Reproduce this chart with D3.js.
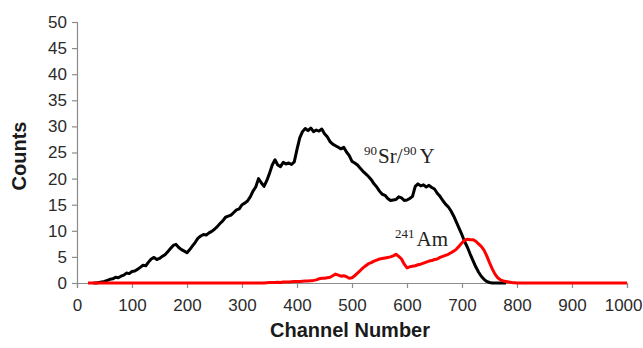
<!DOCTYPE html>
<html>
<head>
<meta charset="utf-8">
<script src="https://cdn.jsdelivr.net/npm/d3@7"></script>
<style>
  html, body { margin: 0; padding: 0; background: #fff; }
  svg { display: block; }
</style>
</head>
<body>
<svg id="chart" width="643" height="348"></svg>
<script>
// 90Sr/90Y beta spectrum: channel numbers and counts
const srChannels = [
  30, 35, 40, 45, 50, 55, 60, 65, 70, 75, 80, 85, 90, 95, 100, 105, 110, 115, 120, 125,
  130, 135, 140, 145, 150, 155, 160, 165, 170, 175, 180, 185, 190, 195, 200, 205, 210, 215, 220, 225,
  230, 235, 240, 245, 250, 255, 260, 265, 270, 275, 280, 285, 290, 295, 300, 305, 310, 315, 320, 325,
  330, 335, 340, 345, 350, 355, 360, 365, 370, 375, 380, 385, 390, 395, 400, 405, 410, 415, 420, 425,
  430, 435, 440, 445, 450, 455, 460, 465, 470, 475, 480, 485, 490, 495, 500, 505, 510, 515, 520, 525,
  530, 535, 540, 545, 550, 555, 560, 565, 570, 575, 580, 585, 590, 595, 600, 605, 610, 615, 620, 625,
  630, 635, 640, 645, 650, 655, 660, 665, 670, 675, 680, 685, 690, 695, 700, 705, 710, 715, 720, 725,
  730, 735, 740, 745, 750, 755, 760, 765, 770, 775, 780
];
const srCounts = [
  0, 0, 0.1, 0.2, 0.3, 0.5, 0.7, 0.8, 1.1, 1.0, 1.3, 1.5, 1.9, 1.8, 2.2, 2.3, 2.6, 3.0, 3.4, 3.3,
  4.0, 4.6, 4.9, 4.5, 4.7, 5.1, 5.4, 6.0, 6.6, 7.2, 7.4, 6.8, 6.4, 6.1, 5.8, 6.4, 7.1, 7.8, 8.6, 9.0,
  9.3, 9.2, 9.6, 9.9, 10.3, 10.8, 11.4, 11.9, 12.6, 12.8, 13.0, 13.5, 14.0, 14.2, 15.0, 15.3, 15.7, 16.5, 17.6, 18.4,
  20.0, 19.2, 18.5, 19.6, 21.0, 22.6, 23.6, 22.6, 22.3, 23.1, 22.8, 23.0, 22.7, 23.2, 25.6, 27.8, 29.0, 29.6, 29.2, 29.7,
  29.0, 29.3, 29.1, 29.5, 28.6, 28.0, 27.1, 26.6, 26.3, 26.0, 25.7, 26.0, 25.1, 24.4, 23.3, 23.0, 22.6, 22.0, 21.4, 20.9,
  20.4, 19.8, 19.0, 18.4, 17.6, 17.0, 16.8, 16.2, 15.8, 15.9, 16.0, 16.5, 16.3, 15.8, 15.9, 16.2, 16.6, 18.5, 19.0, 18.6,
  18.8, 18.4, 18.7, 18.3, 18.0, 17.2, 16.6, 15.8, 15.1, 14.6, 13.8, 12.8, 11.6, 10.4, 9.2, 7.9, 6.8, 5.5, 4.3, 3.1,
  2.1, 1.3, 0.7, 0.3, 0.1, 0, 0, 0, 0, 0, 0
];

// 241Am spectrum: channel numbers and counts (flat at zero outside 340–800)
const amChannels = [
  20, 340, 345, 350, 355, 360, 365, 370, 375, 380, 385, 390, 395, 400, 405, 410, 415, 420, 425, 430,
  435, 440, 445, 450, 455, 460, 465, 470, 475, 480, 485, 490, 495, 500, 505, 510, 515, 520, 525, 530,
  535, 540, 545, 550, 555, 560, 565, 570, 575, 580, 585, 590, 595, 600, 605, 610, 615, 620, 625, 630,
  635, 640, 645, 650, 655, 660, 665, 670, 675, 680, 685, 690, 695, 700, 705, 710, 715, 720, 725, 730,
  735, 740, 745, 750, 755, 760, 765, 770, 775, 780, 785, 790, 795, 800, 1000
];
const amCounts = [
  0, 0, 0.05, 0.1, 0.1, 0.1, 0.15, 0.1, 0.2, 0.2, 0.2, 0.25, 0.3, 0.3, 0.3, 0.35, 0.4, 0.4, 0.45, 0.5,
  0.6, 0.8, 0.9, 0.9, 1.0, 1.1, 1.4, 1.7, 1.5, 1.3, 1.4, 1.2, 0.9, 1.0, 1.4, 1.9, 2.4, 2.9, 3.3, 3.7,
  3.9, 4.2, 4.4, 4.6, 4.7, 4.8, 4.9, 5.0, 5.2, 5.5, 5.1, 4.6, 3.6, 2.9, 3.1, 3.2, 3.3, 3.5, 3.6, 3.8,
  4.0, 4.2, 4.3, 4.5, 4.6, 4.9, 5.1, 5.3, 5.5, 5.8, 6.1, 6.5, 7.1, 7.7, 8.2, 8.4, 8.3, 8.3, 8.0, 7.5,
  7.0, 6.3, 5.2, 3.9, 2.7, 1.7, 1.0, 0.6, 0.4, 0.3, 0.2, 0.1, 0.05, 0, 0
];

const xTicks = [0, 100, 200, 300, 400, 500, 600, 700, 800, 900, 1000];
const yTicks = [0, 5, 10, 15, 20, 25, 30, 35, 40, 45, 50];

const svg = d3.select("#chart");
const x = d3.scaleLinear().domain([0, 1000]).range([77, 627]);
const y = d3.scaleLinear().domain([0, 50]).range([283, 22]);

const axisColor = "#8c8c8c";
const labelColor = "#2b2b2b";
const sans = "Arial, 'Liberation Sans', sans-serif";

// y axis
const gy = svg.append("g").attr("transform", `translate(${x(0)},0)`)
  .call(d3.axisLeft(y).tickValues(yTicks).tickSize(5).tickPadding(5).tickFormat(d3.format("d")));
// x axis
const gx = svg.append("g").attr("transform", `translate(0,${y(0)})`)
  .call(d3.axisBottom(x).tickValues(xTicks).tickSize(5).tickPadding(11).tickFormat(d3.format("d")));

[gx, gy].forEach(g => {
  g.select(".domain").attr("stroke", axisColor).attr("stroke-width", 1.2);
  g.selectAll(".tick line").attr("stroke", axisColor).attr("stroke-width", 1.2);
  g.selectAll(".tick text")
    .attr("fill", labelColor)
    .style("font-family", sans)
    .style("font-size", "17px");
});
// keep the last x label inside the frame
gx.selectAll(".tick text").filter(d => d === 1000)
  .attr("text-anchor", "end").attr("x", 15);

// axis titles
svg.append("text")
  .attr("x", 350).attr("y", 337)
  .attr("text-anchor", "middle")
  .attr("fill", "#1a1a1a")
  .style("font-family", sans)
  .style("font-size", "20px").style("font-weight", "bold")
  .text("Channel Number");

svg.append("text")
  .attr("transform", `translate(26,156) rotate(-90)`)
  .attr("text-anchor", "middle")
  .attr("fill", "#1a1a1a")
  .style("font-family", sans)
  .style("font-size", "20px").style("font-weight", "bold")
  .text("Counts");

// spectra
const lineGen = d3.line().x(d => x(d[0])).y(d => y(d[1]));
const pairs = (cs, vs) => cs.map((c, i) => [c, vs[i]]);

svg.append("path").attr("d", lineGen(pairs(srChannels, srCounts)))
  .attr("fill", "none").attr("stroke", "#000").attr("stroke-width", 3)
  .attr("stroke-linejoin", "round");
svg.append("path").attr("d", lineGen(pairs(amChannels, amCounts)))
  .attr("fill", "none").attr("stroke", "#f00").attr("stroke-width", 3)
  .attr("stroke-linejoin", "round");

// isotope labels
function isotope(xp, yp, parts) {
  const t = svg.append("text").attr("x", xp).attr("y", yp)
    .attr("fill", "#222")
    .style("font-family", "'Times New Roman', 'Liberation Serif', serif")
    .style("font-size", "21px");
  parts.forEach(([txt, sup, dx]) => {
    t.append("tspan")
      .attr("dy", sup ? -8 : 8)
      .attr("dx", dx)
      .style("font-size", sup ? "13px" : "21px")
      .text(txt);
  });
}
isotope(364, 163, [["90", true, 0], ["Sr/", false, 1], ["90", true, 1], ["Y", false, 3]]);
isotope(395, 246, [["241", true, 0], ["Am", false, 2]]);
</script>
</body>
</html>
